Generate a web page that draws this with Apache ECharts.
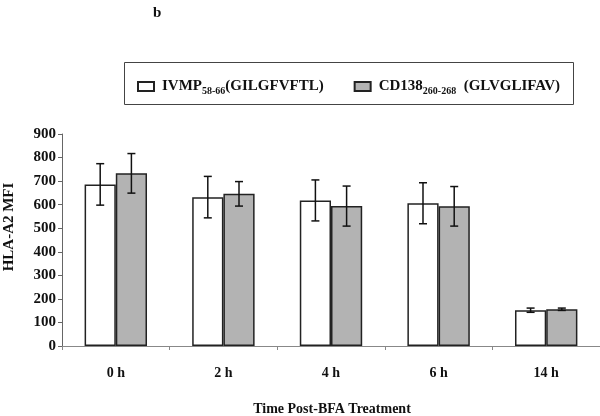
<!DOCTYPE html>
<html>
<head>
<meta charset="utf-8">
<script src="https://cdn.jsdelivr.net/npm/echarts@6/dist/echarts.min.js"></script>
<style>html,body{margin:0;padding:0;background:#fff}#c{width:600px;height:416px}</style>
</head>
<body>
<div id="c"></div>
<script>
const categories = ['0 h', '2 h', '4 h', '6 h', '14 h'];
const ivmpName = 'IVMP58-66 (GILGFVFTL)';
const cd138Name = 'CD138260-268 (GLVGLIFAV)';
const ivmpValues = [686, 632, 618, 606, 152];
const ivmpErrors = [88, 88, 87, 87, 9];
const cd138Values = [733, 646, 594, 593, 156];
const cd138Errors = [84, 52, 85, 84, 5];
const yTicks = { min: 0, max: 900, interval: 100 };

const serif = '"Liberation Serif", "Times New Roman", serif';
const BAR_FRAC = 0.29;

function errSeries(name, vals, errs, side) {
  return {
    type: 'custom', name: name, z: 5,
    data: vals.map((v, i) => [i, v, errs[i]]),
    renderItem: function (params, api) {
      const i = api.value(0), v = api.value(1), e = api.value(2);
      const cw = api.size([1, 0])[0];
      const bw = cw * BAR_FRAC;
      const c = api.coord([i, v]);
      const x = c[0] + side * bw / 2;
      const hi = api.coord([i, v + e])[1];
      const lo = api.coord([i, v - e])[1];
      const cap = 4;
      const st = { stroke: '#111', lineWidth: 1.5, fill: null };
      return { type: 'group', children: [
        { type: 'line', shape: { x1: x, y1: hi, x2: x, y2: lo }, style: st },
        { type: 'line', shape: { x1: x - cap, y1: hi, x2: x + cap, y2: hi }, style: st },
        { type: 'line', shape: { x1: x - cap, y1: lo, x2: x + cap, y2: lo }, style: st }
      ]};
    }
  };
}

const chart = echarts.init(document.getElementById('c'), null, { renderer: 'canvas' });
chart.setOption({
  animation: false,
  backgroundColor: '#fff',
  grid: { left: 62, top: 134, width: 556, height: 212 },
  legend: {
    left: 132, top: 74, itemWidth: 16, itemHeight: 9, itemGap: 30,
    icon: 'rect',
    data: [ivmpName, cd138Name],
    textStyle: {
      fontFamily: serif, fontWeight: 'bold', fontSize: 15, color: '#111', padding: [0, 0, 0, 3],
      rich: {
        n: { fontFamily: serif, fontWeight: 'bold', fontSize: 15, color: '#111' },
        s: { fontFamily: serif, fontWeight: 'bold', fontSize: 10, color: '#111', padding: [9, 0, 0, 0] }
      }
    },
    formatter: function (name) {
      if (name === ivmpName) return '{n|IVMP}{s|58-66}{n|(GILGFVFTL)}';
      return '{n|CD138}{s|260-268}{n|  (GLVGLIFAV)}';
    }
  },
  graphic: [
    { type: 'rect', shape: { x: 124.5, y: 62.5, width: 449, height: 42 }, style: { fill: null, stroke: '#444', lineWidth: 1 }, silent: true },
    { type: 'text', left: 153, top: 6, style: { text: 'b', fontFamily: serif, fontWeight: 'bold', fontSize: 15, fill: '#111' } },
    { type: 'text', x: 9, y: 227, rotation: Math.PI / 2, style: { text: 'HLA-A2 MFI', fontFamily: serif, fontWeight: 'bold', fontSize: 15, fill: '#111', textAlign: 'center', textVerticalAlign: 'middle' } },
    { type: 'text', x: 332, y: 409, style: { text: 'Time Post-BFA Treatment', fontFamily: serif, fontWeight: 'bold', fontSize: 14, fill: '#111', textAlign: 'center', textVerticalAlign: 'middle' } }
  ],
  xAxis: {
    type: 'category', data: categories,
    axisLine: { lineStyle: { color: '#888', width: 1 } },
    axisTick: { show: true, length: 4, lineStyle: { color: '#888' } },
    axisLabel: { margin: 20, fontFamily: serif, fontWeight: 'bold', fontSize: 14, color: '#111' },
    splitLine: { show: false }
  },
  yAxis: {
    type: 'value', min: yTicks.min, max: yTicks.max, interval: yTicks.interval,
    axisLine: { show: true, lineStyle: { color: '#666', width: 1 } },
    axisTick: { show: true, length: 4, lineStyle: { color: '#666' } },
    axisLabel: { margin: 6, fontFamily: serif, fontWeight: 'bold', fontSize: 15, color: '#111' },
    splitLine: { show: false }
  },
  series: [
    { type: 'bar', name: ivmpName, data: ivmpValues, barGap: '0%', barCategoryGap: '42%',
      itemStyle: { color: '#ffffff', borderColor: '#222', borderWidth: 1.5 } },
    { type: 'bar', name: cd138Name, data: cd138Values, barGap: '0%', barCategoryGap: '42%',
      itemStyle: { color: '#b3b3b3', borderColor: '#222', borderWidth: 1.5 } },
    errSeries(ivmpName, ivmpValues, ivmpErrors, -1),
    errSeries(cd138Name, cd138Values, cd138Errors, 1)
  ]
});
</script>
</body>
</html>
